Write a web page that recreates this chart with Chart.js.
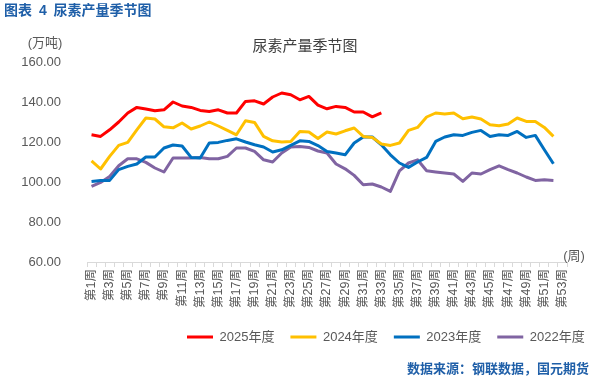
<!DOCTYPE html>
<html><head><meta charset="utf-8">
<script src="https://cdn.jsdelivr.net/npm/chart.js@4"></script>
<style>
html,body{margin:0;padding:0;background:#fff;}
#wrap{position:relative;width:607px;height:377px;overflow:hidden;background:#fff;font-family:'Liberation Sans','Noto Sans CJK SC',sans-serif;}
#c{position:absolute;left:0;top:0;}
.t{position:absolute;white-space:nowrap;line-height:1;}
</style></head><body>
<div id="wrap">
<canvas id="c" width="607" height="377"></canvas>
<div class="t" style="left:4px;top:3px;font-size:14px;font-weight:bold;color:#1F5FA8;word-spacing:3px;">图表 4 尿素产量季节图</div>
<div class="t" style="left:305px;top:45px;transform:translate(-50%,-50%);font-size:15px;color:#404040;">尿素产量季节图</div>
<div class="t" style="left:45px;top:42px;transform:translate(-50%,-50%);font-size:13px;color:#595959;">(万吨)</div>
<div class="t" style="left:574px;top:255px;transform:translate(-50%,-50%);font-size:13px;color:#595959;">(周)</div>
<div class="t" style="right:18px;top:368px;transform:translateY(-50%);font-size:13px;font-weight:bold;color:#1F5FA8;">数据来源：钢联数据，国元期货</div>
</div>
<script>
const weekLabels = ['第1周','第2周','第3周','第4周','第5周','第6周','第7周','第8周','第9周','第10周',
'第11周','第12周','第13周','第14周','第15周','第16周','第17周','第18周','第19周','第20周',
'第21周','第22周','第23周','第24周','第25周','第26周','第27周','第28周','第29周','第30周',
'第31周','第32周','第33周','第34周','第35周','第36周','第37周','第38周','第39周','第40周',
'第41周','第42周','第43周','第44周','第45周','第46周','第47周','第48周','第49周','第50周',
'第51周','第52周','第53周'];
const seriesNames = ['2025年度','2024年度','2023年度','2022年度'];
const y2025 = [123.6,122.8,126.1,130.0,134.5,137.3,136.5,135.6,136.1,140.0,138.0,137.3,135.8,135.3,136.1,134.5,134.5,140.3,140.6,139.0,142.5,144.5,143.6,141.1,142.8,138.4,136.6,137.8,137.3,135.0,135.0,132.6,134.6];
const y2024 = [110.6,106.5,112.8,118.3,119.8,126.1,132.0,131.5,127.6,127.1,129.5,126.5,128.0,130.0,128.0,125.8,123.6,130.6,129.8,122.8,120.6,120.0,120.3,125.3,125.0,121.8,125.0,124.0,125.6,127.0,122.8,122.3,119.0,118.3,119.5,125.8,127.3,132.5,134.5,134.0,134.5,131.6,132.5,131.5,128.6,128.1,129.0,132.0,130.3,130.3,127.3,122.8];
const y2023 = [100.3,100.8,100.8,106.2,107.8,109.0,112.5,112.5,117.0,118.5,118.0,112.3,112.0,119.5,119.8,120.8,121.6,120.0,118.6,117.5,115.0,116.1,118.3,120.6,120.3,118.2,115.3,114.5,113.6,119.5,122.5,122.5,118.6,113.6,109.5,107.3,110.0,112.3,120.3,122.5,123.6,123.3,124.8,125.8,122.8,123.6,123.3,125.3,122.3,123.3,116.1,109.1];
const y2022 = [97.8,99.8,102.8,108.1,111.6,111.6,109.8,107.0,105.0,112.0,112.0,112.0,112.3,111.6,111.6,112.8,117.0,117.0,115.3,111.1,110.0,114.5,117.5,117.8,117.3,115.5,114.5,109.0,106.6,103.3,98.6,99.0,97.5,95.3,105.6,109.5,111.1,105.6,105.0,104.5,104.0,100.3,104.5,104.0,106.2,108.1,106.2,104.5,102.5,100.8,101.1,100.8];
const yTicks = [60,80,100,120,140,160];

const FONT = "'Liberation Sans','Noto Sans CJK SC',sans-serif";
const LEGEND_X = 187, LEGEND_TOP = 314.5;
const legendShift = {
  id:'legendShift',
  afterLayout(chart){
    const lg = chart.legend; if(!lg || !lg.lineWidths) return;
    const pad = lg.options.labels.padding;
    const start = (lg.left + pad + lg.right - lg.lineWidths[0]) / 2;
    const dx = LEGEND_X - start;
    lg.left += dx; lg.right += dx;
    const dy = LEGEND_TOP - lg.top;
    lg.top += dy; lg.bottom += dy;
  }
};
const colors = ['#FF0000','#FFC000','#0070C0','#8064A2'];
const seriesData = [y2025,y2024,y2023,y2022];
new Chart(document.getElementById('c').getContext('2d'), {
  type:'line',
  data:{
    labels: weekLabels,
    datasets: seriesNames.map((n,i)=>({label:n,data:seriesData[i],borderColor:colors[i],backgroundColor:colors[i],borderWidth:3,pointRadius:0,tension:0,fill:false}))
  },
  options:{
    responsive:false, animation:false, devicePixelRatio:1,
    layout:{padding:{top:62,right:40,left:0,bottom:0}},
    elements:{line:{borderJoinStyle:'round',borderCapStyle:'butt'}},
    plugins:{
      tooltip:{enabled:false},
      title:{display:false},
      legend:{position:'bottom',labels:{boxWidth:26,boxHeight:3,padding:16,color:'#595959',font:{size:13,family:FONT},
        generateLabels(chart){
          const items = Chart.defaults.plugins.legend.labels.generateLabels(chart);
          items.forEach(it=>{it.lineWidth=0;it.fillStyle=it.strokeStyle;});
          return items;
        }}}
    },
    scales:{
      x:{
        type:'category', offset:true,
        grid:{display:true,drawOnChartArea:false,drawTicks:true,tickLength:5,offset:true,color:'#D9D9D9'},
        border:{display:true,color:'#D9D9D9'},
        ticks:{autoSkip:false,maxRotation:90,minRotation:90,padding:2,color:'#595959',font:{size:12.5,family:FONT},
          callback:function(v,i){return i%2===0?this.getLabelForValue(v):'';}},
        afterFit:s=>{s.height=76;}
      },
      y:{
        min:60,max:160,
        afterBuildTicks:s=>{s.ticks=yTicks.map(v=>({value:v}));},
        ticks:{padding:18,color:'#595959',font:{size:13,family:FONT},callback:v=>Number(v).toFixed(2)},
        grid:{display:false},border:{display:false},
        afterFit:s=>{s.width=87;}
      }
    }
  },
  plugins:[legendShift]
});
</script>
</body></html>
